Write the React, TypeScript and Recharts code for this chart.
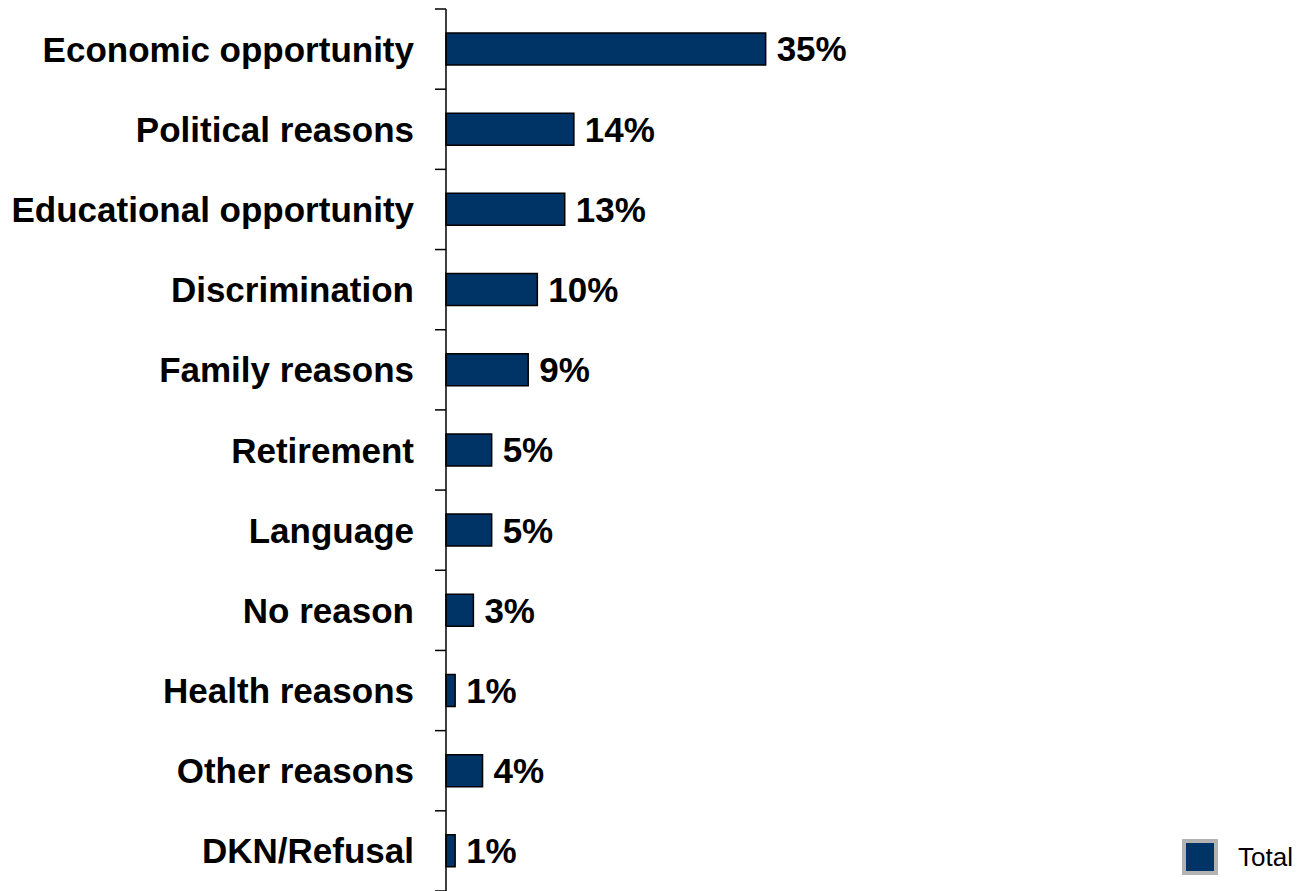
import { BarChart, Bar, XAxis, YAxis, LabelList } from "recharts"

const reasons = [
  "Economic opportunity",
  "Political reasons",
  "Educational opportunity",
  "Discrimination",
  "Family reasons",
  "Retirement",
  "Language",
  "No reason",
  "Health reasons",
  "Other reasons",
  "DKN/Refusal",
]
const totals = [35, 14, 13, 10, 9, 5, 5, 3, 1, 4, 1]
const seriesName = "Total"

const data = reasons.map((reason, i) => ({ reason, total: totals[i] }))

const NAVY = "#003366"
const FONT = "'Liberation Sans', Arial, sans-serif"
const TOP = 9
const HEIGHT = 891
const BAND = (HEIGHT - TOP) / reasons.length

function CategoryTick(props: any) {
  const { x, y, payload, index } = props
  return (
    <g>
      <line x1={x - 11} x2={x} y1={y - BAND / 2} y2={y - BAND / 2} stroke="#000" strokeWidth={1.5} />
      {index === reasons.length - 1 && (
        <line x1={x - 11} x2={x} y1={y + BAND / 2} y2={y + BAND / 2} stroke="#000" strokeWidth={1.5} />
      )}
      <text x={x - 32} y={y} textAnchor="end" dominantBaseline="central" fontFamily={FONT} fontWeight="bold" fontSize={35} fill="#000">
        {payload.value}
      </text>
    </g>
  )
}

export default function App() {
  return (
    <div style={{ position: "absolute", left: 0, top: 0, width: 1300, height: HEIGHT, background: "#fff" }}>
      <BarChart
        width={1300}
        height={HEIGHT}
        data={data}
        layout="vertical"
        margin={{ top: TOP, right: 32, bottom: 0, left: 0 }}
        barSize={32}
      >
        <XAxis type="number" domain={[0, 90]} hide />
        <YAxis
          type="category"
          dataKey="reason"
          width={446}
          axisLine={{ stroke: "#000", strokeWidth: 1.5 }}
          tickLine={false}
          tickSize={0}
          tickMargin={0}
          tick={<CategoryTick />}
          interval={0}
        />
        <Bar dataKey="total" name={seriesName} fill={NAVY} stroke="#000" strokeWidth={1.5} isAnimationActive={false}>
          <LabelList
            dataKey="total"
            position="right"
            offset={11}
            formatter={(v: any) => `${v}%`}
            style={{ fontFamily: FONT, fontWeight: "bold", fontSize: 35, fill: "#000" }}
          />
        </Bar>
      </BarChart>
      <div style={{ position: "absolute", left: 1182, top: 839, display: "flex", alignItems: "center", fontFamily: FONT }}>
        <div style={{ width: 28, height: 28, background: NAVY, border: "4px solid #b3b3b3" }} />
        <span style={{ marginLeft: 20, fontSize: 26, color: "#000" }}>{seriesName}</span>
      </div>
    </div>
  )
}
